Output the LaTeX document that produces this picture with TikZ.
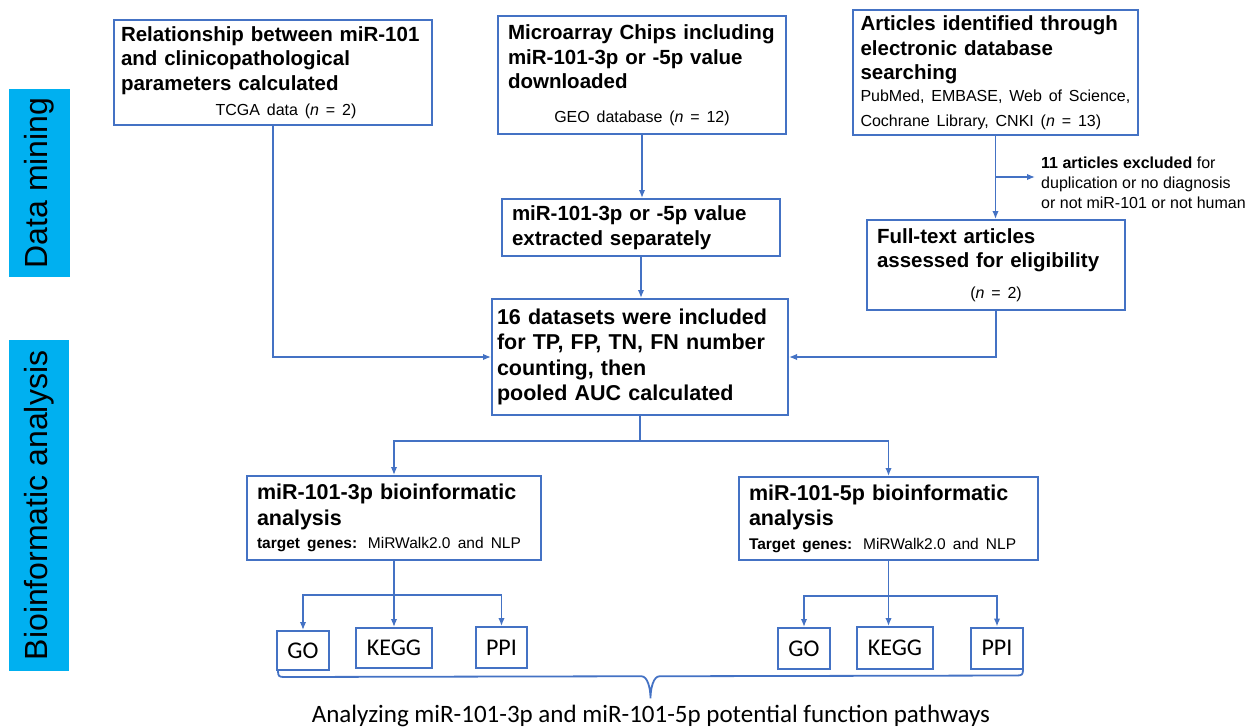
\documentclass[tikz,border=0pt]{standalone}
\usepackage{fontspec}
\setmainfont{Liberation Sans}
\newfontfamily\calibri{Carlito}
\usetikzlibrary{arrows.meta, calc}

\definecolor{flowblue}{HTML}{4472C4}
\definecolor{bandcyan}{HTML}{00B0F0}
\newcommand{\boxhead}{\fontsize{20.5}{24.5}\selectfont\bfseries}
\newcommand{\boxbig}{\fontsize{21.5}{25.5}\selectfont\bfseries}
\newcommand{\boxnote}{\fontsize{16}{20}\selectfont\mdseries}
\newcommand{\noteline}[1]{\makebox[\hsize][l]{#1}}

\begin{document}
\begin{tikzpicture}[
  x=1pt, y=-1pt,
  box/.style={rectangle, draw=flowblue, line width=2pt, fill=white,
              align=left, inner xsep=10pt, inner ysep=0pt, font=\boxhead,
              execute at begin node={\parindent=0pt}},
  tool/.style={rectangle, draw=flowblue, line width=2pt, fill=white,
               inner sep=0pt, font=\calibri\fontsize{24}{28}\selectfont},
  band/.style={rectangle, fill=bandcyan, rotate=90, inner sep=0pt,
               font=\fontsize{32}{36}\selectfont},
  link/.style={draw=flowblue, line width=1.5pt},
  arr/.style={link, -{Latex[length=8pt, width=6.5pt]}}
]
\useasboundingbox (0,0) rectangle (1251,728);

% --- Phase bands ---
\node[band, minimum width=188pt, minimum height=61pt] (dm) at (39.5,183) {Data mining};
\node[band, minimum width=331pt, minimum height=60pt] (ba) at (39,505.5) {Bioinformatic analysis};

% --- Data mining sources ---
\node[box, minimum width=318pt, text width=304pt, inner xsep=7pt, minimum height=105pt] (rel) at (273,72.5)
  {\mbox{Relationship between miR-101}\\and clinicopathological\\parameters calculated\par\vspace{1pt}
   \boxnote\makebox[\hsize]{\hspace{26pt}TCGA data (\textit{n} = 2)}};
\node[box, minimum width=288pt, text width=268pt, minimum height=118pt] (chips) at (642,75)
  {Microarray Chips including\\miR-101-3p or -5p value\\downloaded\par\vspace{9pt}
   \boxnote\makebox[\hsize]{GEO database (\textit{n} = 12)}};
\node[box, minimum width=285pt, text width=270pt, inner xsep=7.5pt, minimum height=125pt] (arts) at (995.5,72.5)
  {Articles identified through\\electronic database\\searching\par\vspace{2pt}
   \boxnote\noteline{PubMed, EMBASE, Web of Science,}\\
   \noteline{Cochrane Library, CNKI (\textit{n} = 13)}};

\node[box, minimum width=278pt, text width=258pt, minimum height=57pt] (extr) at (641,227.5)
  {miR-101-3p or -5p value\\extracted separately};
\node[box, minimum width=258pt, text width=238pt, minimum height=90pt] (full) at (996,265)
  {Full-text articles\\assessed for eligibility\par\vspace{6pt}
   \boxnote\makebox[\hsize]{(\textit{n} = 2)}};
\node[anchor=west, align=left, inner xsep=6pt, inner ysep=0pt, font=\boxnote] (excl) at (1035,183)
  {\textbf{11 articles excluded} for\\duplication or no diagnosis\\or not miR-101 or not human};

% --- Pooled analysis ---
\node[box, minimum width=296pt, text width=286pt, inner xsep=5pt, minimum height=116pt, font=\boxbig] (dsets) at (640,357)
  {16 datasets were included\\for TP, FP, TN, FN number\\counting, then\\pooled AUC calculated};

% --- Bioinformatic analysis ---
\node[box, minimum width=294pt, text width=274pt, minimum height=84pt, font=\boxbig] (bio3) at (394,518)
  {miR-101-3p bioinformatic\\analysis\par\vspace{-2pt}
   \fontsize{15.5}{19}\selectfont\mdseries\noteline{\textbf{target genes:} MiRWalk2.0 and NLP}};
\node[box, minimum width=299pt, text width=279pt, minimum height=83pt, font=\boxbig] (bio5) at (888.5,518.5)
  {miR-101-5p bioinformatic\\analysis\par\vspace{-2pt}
   \fontsize{15.5}{19}\selectfont\mdseries\noteline{\textbf{Target genes:} MiRWalk2.0 and NLP}};

\node[tool, minimum width=52pt, minimum height=39pt] (go3)   at (303,650.5) {GO};
\node[tool, minimum width=76pt, minimum height=40pt] (kegg3) at (394,648)   {KEGG};
\node[tool, minimum width=51pt, minimum height=41pt] (ppi3)  at (501.5,647.5) {PPI};
\node[tool, minimum width=52pt, minimum height=41pt] (go5)   at (804,648.5) {GO};
\node[tool, minimum width=76pt, minimum height=42pt] (kegg5) at (895,648)   {KEGG};
\node[tool, minimum width=52pt, minimum height=41pt] (ppi5)  at (997,648)   {PPI};

\node[font=\calibri\fontsize{25}{29}\selectfont, inner sep=0pt] (func) at (651,716)
  {Analyzing miR-101-3p and miR-101-5p potential function pathways};

% --- Connectors ---
\coordinate (jx) at ($(arts.south)+(0,41)$);
\coordinate (j6) at ($(dsets.south)+(0,25)$);
\coordinate (j3) at ($(bio3.south)+(0,34)$);
\coordinate (j5) at ($(bio5.south)+(0,35)$);

\draw[arr] (chips.south) -- (chips.south |- extr.north);
\draw[arr] (extr.south) -- (extr.south |- dsets.north);
\draw[arr] (arts.south) -- (arts.south |- full.north);
\draw[arr] (jx) -- (jx -| excl.west);
\draw[arr] (rel.south) |- (dsets.west);
\draw[arr] (full.south) |- (dsets.east);

\draw[link] (dsets.south) -- (j6);
\draw[arr] (j6) -| (bio3.north);
\draw[arr] (j6) -| (bio5.north);

\draw[link] (bio3.south) -- (j3);
\draw[arr] (j3) -| (go3.north);
\draw[arr] (j3) -- (j3 |- kegg3.north);
\draw[arr] (j3) -| (ppi3.north);

\draw[link] (bio5.south) -- (j5);
\draw[arr] (j5) -| (go5.north);
\draw[arr] (j5) -- (j5 |- kegg5.north);
\draw[arr] (j5) -| (ppi5.north);

% brace under the tool boxes
\coordinate (bL) at ([xshift=2pt]go3.south west);
\coordinate (bR) at ([xshift=-1pt]ppi5.south east);
\coordinate (bT) at ($(bL)!0.5!(bR)+(0,28)$);
\draw[link, line width=1.8pt] (bL) .. controls +(0,5) and +(-5,0) .. ($(bL)+(6,6)$)
  -- ($(bT)+(-9,-22)$) .. controls +(6,0) and +(0,-10) .. (bT)
  .. controls +(0,-10) and +(-6,0) .. ($(bT)+(9,-22)$)
  -- ($(bR)+(-6,6)$) .. controls +(5,0) and +(0,5) .. (bR);
\end{tikzpicture}
\end{document}
